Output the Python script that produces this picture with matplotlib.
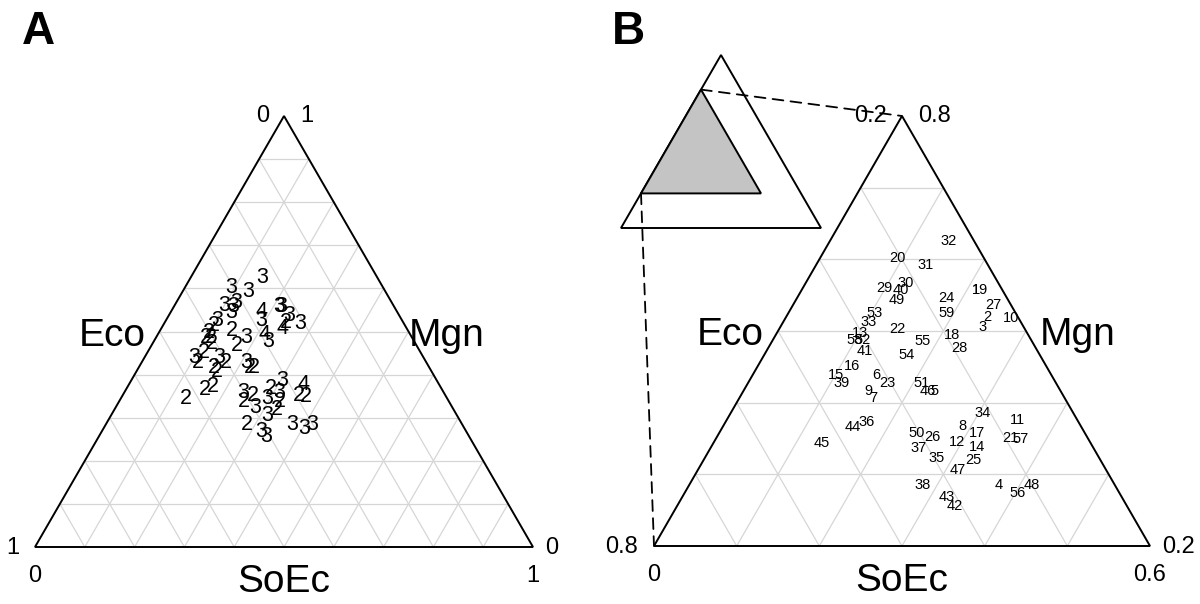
import numpy as np
import matplotlib.pyplot as plt
from matplotlib.patches import Polygon, ConnectionPatch

plt.rcParams['font.family'] = ['Liberation Sans', 'DejaVu Sans']

# sample numbers 1..59 with their composition (Eco, SoEc, Mgn) and cluster
ids = list(range(1, 60))
eco = [0.232, 0.237, 0.250, 0.341, 0.353, 0.411, 0.431, 0.343, 0.433, 0.209,
       0.272, 0.361, 0.402, 0.340, 0.460, 0.435, 0.330, 0.293, 0.227, 0.305,
       0.294, 0.354, 0.404, 0.273, 0.354, 0.387, 0.222, 0.293, 0.341, 0.312,
       0.276, 0.231, 0.384, 0.310, 0.397, 0.456, 0.412, 0.432, 0.459, 0.323,
       0.409, 0.408, 0.412, 0.476, 0.525, 0.361, 0.380, 0.300, 0.335, 0.403,
       0.363, 0.404, 0.371, 0.361, 0.332, 0.323, 0.282, 0.414, 0.283]
soec = [0.211, 0.243, 0.244, 0.374, 0.231, 0.150, 0.162, 0.290, 0.151, 0.273,
        0.352, 0.294, 0.101, 0.322, 0.101, 0.114, 0.312, 0.213, 0.216, 0.093,
        0.355, 0.143, 0.169, 0.181, 0.326, 0.261, 0.242, 0.231, 0.099, 0.121,
        0.132, 0.143, 0.103, 0.304, 0.280, 0.171, 0.251, 0.283, 0.114, 0.120,
        0.119, 0.336, 0.320, 0.158, 0.131, 0.223, 0.314, 0.415, 0.122, 0.239,
        0.210, 0.109, 0.104, 0.172, 0.182, 0.403, 0.369, 0.099, 0.192]
mgn = [0.557, 0.520, 0.506, 0.285, 0.416, 0.439, 0.407, 0.367, 0.416, 0.518,
       0.376, 0.345, 0.497, 0.338, 0.439, 0.451, 0.358, 0.494, 0.557, 0.602,
       0.351, 0.503, 0.427, 0.546, 0.320, 0.352, 0.536, 0.476, 0.560, 0.567,
       0.592, 0.626, 0.513, 0.386, 0.323, 0.373, 0.337, 0.285, 0.427, 0.557,
       0.472, 0.256, 0.268, 0.366, 0.344, 0.416, 0.306, 0.285, 0.543, 0.358,
       0.427, 0.487, 0.525, 0.467, 0.486, 0.274, 0.349, 0.487, 0.525]
group = [3, 2, 4, 3, 2, 3, 2, 2, 2, 3, 4, 3, 2, 2, 3, 2, 3, 4, 3, 3,
         2, 2, 2, 4, 2, 2, 3, 3, 3, 3, 3, 3, 2, 3, 3, 2, 2, 2, 2, 3,
         2, 3, 3, 2, 2, 2, 3, 3, 3, 3, 3, 2, 3, 2, 3, 3, 2, 2, 3]

H = np.sqrt(3) / 2


def xy(s, m):
    s = np.asarray(s, dtype=float)
    m = np.asarray(m, dtype=float)
    return s + m / 2, m * H


def panel(ax, lo, r, ndiv, ticks, labels, fs, name_gap):
    e0, s0, m0 = lo
    ax.set_xlim(s0 + m0 / 2, s0 + r + m0 / 2)
    ax.set_ylim(m0 * H, (m0 + r) * H)
    ax.axis('off')
    # grid
    for k in range(1, ndiv):
        t = r * k / ndiv
        segs = [((s0 + t, m0), (s0 + t, 1 - e0 - s0 - t)),
                ((s0, m0 + t), (1 - e0 - m0 - t, m0 + t)),
                ((s0, 1 - e0 - t - s0), (1 - e0 - t - m0, m0))]
        for a, b in segs:
            px, py = xy([a[0], b[0]], [a[1], b[1]])
            ax.plot(px, py, color='#d6d6d6', lw=0.9, zorder=1)
    bl, br, ap = (s0, m0), (s0 + r, m0), (s0, m0 + r)
    pts = np.array([xy(*bl), xy(*br), xy(*ap)])
    ax.add_patch(Polygon(pts, closed=True, fill=False, ec='black', lw=1.4,
                         zorder=2, clip_on=False))
    x, y = xy(soec, mgn)
    for xi, yi, lab in zip(x, y, labels):
        ax.text(xi, yi, str(lab), ha='center', va='center', fontsize=fs, zorder=3)
    # corner values
    tk = dict(textcoords='offset pixels', fontsize=17, va='center')
    ax.annotate(ticks[0], xy(*ap), xytext=(-15, 0), ha='right', **tk)
    ax.annotate(ticks[1], xy(*ap), xytext=(16, 0), ha='left', **tk)
    ax.annotate(ticks[2], xy(*bl), xytext=(-16, -1), ha='right', **tk)
    ax.annotate(ticks[3], xy(*bl), xytext=(0, -29), ha='center', **tk)
    ax.annotate(ticks[4], xy(*br), xytext=(12, -1), ha='left', **tk)
    ax.annotate(ticks[5], xy(*br), xytext=(0, -29), ha='center', **tk)
    # axis names
    mid_l = xy((bl[0] + ap[0]) / 2, (bl[1] + ap[1]) / 2)
    mid_r = xy((br[0] + ap[0]) / 2, (br[1] + ap[1]) / 2)
    mid_b = xy((bl[0] + br[0]) / 2, bl[1])
    nm = dict(textcoords='offset pixels', fontsize=28, va='center')
    ax.annotate('Eco', mid_l, xytext=(-name_gap[0], -4), ha='right', **nm)
    ax.annotate('Mgn', mid_r, xytext=(name_gap[1], -4), ha='left', **nm)
    ax.annotate('SoEc', mid_b, xytext=(0, -35), ha='center', **nm)
    return bl, br, ap


fig = plt.figure(figsize=(12, 6.04), dpi=100)
W, Hpx = 1200, 604

axA = fig.add_axes([35 / W, 57 / Hpx, 498 / W, 431 / Hpx])
panel(axA, (0, 0, 0), 1.0, 10, ['0', '1', '1', '0', '0', '1'], group, 15.5, (14, 0))

axB = fig.add_axes([654 / W, 58 / Hpx, 496 / W, 430 / Hpx])
blB, brB, apB = panel(axB, (0.2, 0, 0.2), 0.6, 6,
                      ['0.2', '0.8', '0.8', '0', '0.2', '0.6'], ids, 10.5, (14, 14))

# inset: whole triangle with the zoomed part shaded
axI = fig.add_axes([621 / W, (Hpx - 228) / Hpx, 200 / W, 173 / Hpx])
axI.set_xlim(0, 1)
axI.set_ylim(0, H)
axI.axis('off')
full = np.array([xy(0, 0), xy(1, 0), xy(0, 1)])
axI.add_patch(Polygon(full, closed=True, fill=False, ec='black', lw=1.4, clip_on=False))
sub = np.array([xy(*blB), xy(*brB), xy(*apB)])
axI.add_patch(Polygon(sub, closed=True, fc='#c4c4c4', ec='black', lw=1.4, clip_on=False))

for v in (apB, blB):
    con = ConnectionPatch(xyA=tuple(xy(*v)), coordsA=axI.transData,
                          xyB=tuple(xy(*v)), coordsB=axB.transData,
                          color='black', lw=1.3, linestyle=(0, (6, 4)))
    fig.add_artist(con)

fig.text(22 / W, 1 - 10 / Hpx, 'A', fontsize=33, fontweight='bold', va='top', ha='left')
fig.text(612 / W, 1 - 10 / Hpx, 'B', fontsize=33, fontweight='bold', va='top', ha='left')

fig.savefig('out.png', dpi=100)
